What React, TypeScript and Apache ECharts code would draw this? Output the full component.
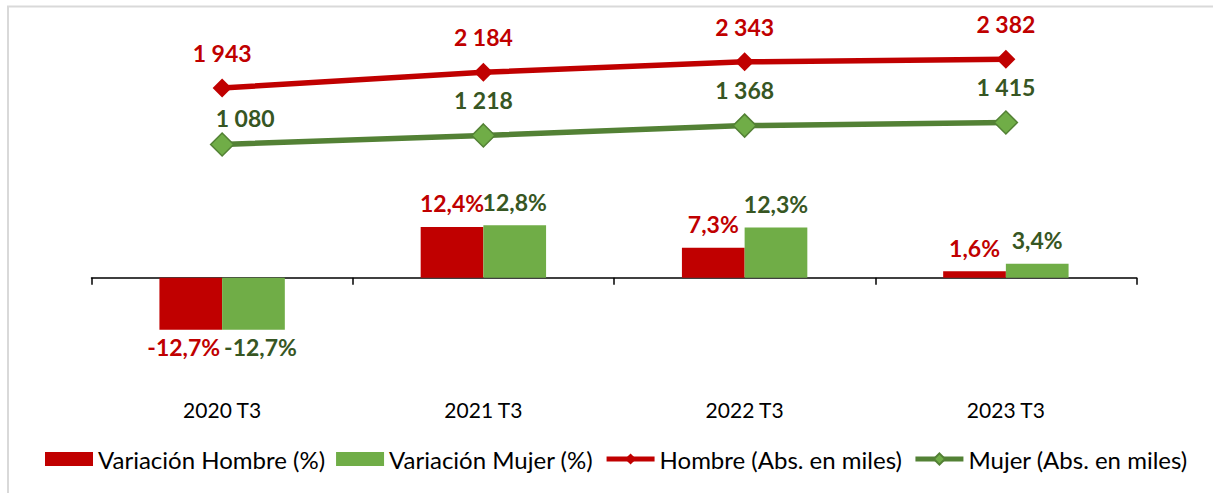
import React, { useEffect, useRef } from "react";
import * as echarts from "echarts";

const categories = ["2020 T3", "2021 T3", "2022 T3", "2023 T3"];
const varHombre = [-12.7, 12.4, 7.3, 1.6];
const varMujer = [-12.7, 12.8, 12.3, 3.4];
const absHombre = [1943, 2184, 2343, 2382];
const absMujer = [1080, 1218, 1368, 1415];
const seriesNames = [
  "Variación Hombre (%)",
  "Variación Mujer (%)",
  "Hombre (Abs. en miles)",
  "Mujer (Abs. en miles)",
];

const RED = "#C00000";
const GREEN_BAR = "#70AD47";
const GREEN_LINE = "#538135";
const GREEN_LABEL = "#375623";
const FONT = "Lato";

const fmtPct = (v: number) => v.toFixed(1).replace(".", ",") + "%";
const fmtAbs = (v: number) =>
  v >= 1000 ? `${Math.floor(v / 1000)} ${String(v % 1000).padStart(3, "0")}` : String(v);

export default function App() {
  const ref = useRef<HTMLDivElement>(null);
  useEffect(() => {
    if (!ref.current) return;
    const chart = echarts.init(ref.current, null, { renderer: "svg" });
    const barLabel = (color: string) => ({
      show: true,
      position: "outside",
      distance: 12,
      color,
      fontFamily: FONT,
      fontWeight: "bold",
      fontSize: 23,
      formatter: (p: any) => fmtPct(p.value),
    });
    const barData = (arr: number[], dx: number) =>
      arr.map((v) =>
        v < 0 ? { value: v, label: { distance: 6, offset: [dx, 0] } } : v
      );
    const lineLabel = (color: string, distance: number) => ({
      show: true,
      position: "top",
      distance,
      color,
      fontFamily: FONT,
      fontWeight: "bold",
      fontSize: 23,
      formatter: (p: any) => fmtAbs(p.value),
    });
    chart.setOption({
      animation: false,
      backgroundColor: "#fff",
      graphic: [
        {
          type: "rect",
          shape: { x: 8, y: 6.5, width: 1400, height: 700 },
          style: { fill: "none", stroke: "#D9D9D9", lineWidth: 2 },
          silent: true,
        },
      ],
      grid: { left: 91.5, right: 76.5, top: 10, bottom: 103 },
      xAxis: [
        {
          type: "category",
          data: categories,
          position: "bottom",
          axisLine: { show: false, onZero: false },
          axisTick: { show: false },
          axisLabel: { color: "#000", fontFamily: FONT, fontSize: 21, margin: 9 },
        },
        {
          type: "category",
          data: categories,
          position: "top",
          axisLine: {
            show: true,
            onZero: true,
            onZeroAxisIndex: 0,
            lineStyle: { color: "#000", width: 1.5 },
          },
          axisTick: {
            show: true,
            inside: true,
            length: 7,
            lineStyle: { color: "#000", width: 1.5 },
          },
          axisLabel: { show: false },
        },
      ],
      yAxis: [
        { type: "value", min: -27.46, max: 65.45, show: false, splitLine: { show: false } },
        { type: "value", min: -2675, max: 3136, show: false, splitLine: { show: false } },
      ],
      legend: {
        left: 40,
        top: 442,
        itemWidth: 48,
        itemHeight: 14,
        itemGap: 11,
        textStyle: { color: "#000", fontFamily: FONT, fontSize: 24 },
        lineStyle: { width: 5 },
        data: [
          { name: seriesNames[0], icon: "rect" },
          { name: seriesNames[1], icon: "rect" },
          { name: seriesNames[2] },
          { name: seriesNames[3] },
        ],
      },
      series: [
        {
          name: seriesNames[0],
          type: "bar",
          xAxisIndex: 0,
          yAxisIndex: 0,
          data: barData(varHombre, -7),
          barGap: "0%",
          barCategoryGap: "52%",
          itemStyle: { color: RED },
          label: barLabel(RED),
        },
        {
          name: seriesNames[1],
          type: "bar",
          xAxisIndex: 0,
          yAxisIndex: 0,
          data: barData(varMujer, 7),
          barGap: "0%",
          barCategoryGap: "52%",
          itemStyle: { color: GREEN_BAR },
          label: barLabel(GREEN_LABEL),
        },
        {
          name: seriesNames[2],
          type: "line",
          xAxisIndex: 0,
          yAxisIndex: 1,
          data: absHombre,
          symbol: "diamond",
          symbolSize: 19,
          lineStyle: { color: RED, width: 5.5 },
          itemStyle: { color: RED },
          label: lineLabel(RED, 14),
          z: 5,
        },
        {
          name: seriesNames[3],
          type: "line",
          xAxisIndex: 0,
          yAxisIndex: 1,
          data: absMujer.map((v, i) =>
            i === 0 ? { value: v, label: { offset: [23, 9] } } : v
          ),
          symbol: "diamond",
          symbolSize: 23,
          lineStyle: { color: GREEN_LINE, width: 5.5 },
          itemStyle: { color: GREEN_BAR, borderColor: GREEN_LINE, borderWidth: 1.5 },
          label: lineLabel(GREEN_LABEL, 12),
          z: 5,
        },
      ],
    });
    return () => chart.dispose();
  }, []);
  return (
    <div
      ref={ref}
      style={{ position: "fixed", left: 0, top: 0, width: 1213, height: 493 }}
    />
  );
}
